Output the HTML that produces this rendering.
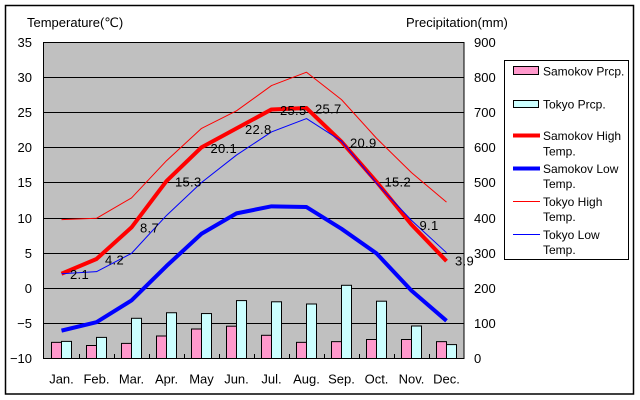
<!DOCTYPE html>
<html><head><meta charset="utf-8"><style>
html,body{margin:0;padding:0;background:#fff;}
svg{display:block;}
text{font-family:"Liberation Sans","DejaVu Sans",sans-serif;fill:#000;}
</style></head><body>
<svg width="640" height="400" viewBox="0 0 640 400" xmlns="http://www.w3.org/2000/svg">
<rect x="0" y="0" width="640" height="400" fill="#fff"/>
<rect x="5.5" y="5.5" width="628" height="388.5" fill="none" stroke="#000" stroke-width="1.5"/>

<text x="27" y="27" font-size="13">Temperature(℃)</text>
<text x="406" y="27" font-size="13">Precipitation(mm)</text>

<!-- plot area -->
<rect x="43.5" y="42.5" width="420.5" height="316" fill="#C0C0C0" stroke="#000" stroke-width="1"/>
<g stroke="#000" stroke-width="1">
<line x1="43.5" y1="77.5" x2="464" y2="77.5"/>
<line x1="43.5" y1="112.5" x2="464" y2="112.5"/>
<line x1="43.5" y1="147.5" x2="464" y2="147.5"/>
<line x1="43.5" y1="182.5" x2="464" y2="182.5"/>
<line x1="43.5" y1="218.5" x2="464" y2="218.5"/>
<line x1="43.5" y1="253.5" x2="464" y2="253.5"/>
<line x1="43.5" y1="288.5" x2="464" y2="288.5"/>
<line x1="43.5" y1="323.5" x2="464" y2="323.5"/>
<line x1="79.5" y1="354" x2="79.5" y2="358.5"/>
<line x1="114.5" y1="354" x2="114.5" y2="358.5"/>
<line x1="149.5" y1="354" x2="149.5" y2="358.5"/>
<line x1="184.5" y1="354" x2="184.5" y2="358.5"/>
<line x1="219.5" y1="354" x2="219.5" y2="358.5"/>
<line x1="254.5" y1="354" x2="254.5" y2="358.5"/>
<line x1="289.5" y1="354" x2="289.5" y2="358.5"/>
<line x1="324.5" y1="354" x2="324.5" y2="358.5"/>
<line x1="359.5" y1="354" x2="359.5" y2="358.5"/>
<line x1="394.5" y1="354" x2="394.5" y2="358.5"/>
<line x1="429.5" y1="354" x2="429.5" y2="358.5"/>
</g>

<!-- bars -->
<g stroke="#000" stroke-width="1">
<g fill="#FF99CC">
<rect x="51.5" y="342.35" width="10" height="16.15"/>
<rect x="86.5" y="345.5" width="10" height="13"/>
<rect x="121.5" y="343.4" width="10" height="15.1"/>
<rect x="156.5" y="336" width="10" height="22.5"/>
<rect x="191.5" y="329" width="10" height="29.5"/>
<rect x="226.5" y="326.2" width="10" height="32.3"/>
<rect x="261.5" y="335.3" width="10" height="23.2"/>
<rect x="296.5" y="342.35" width="10" height="16.15"/>
<rect x="331.5" y="341.65" width="10" height="16.85"/>
<rect x="366.5" y="339.5" width="10" height="19"/>
<rect x="401.5" y="339.5" width="10" height="19"/>
<rect x="436.5" y="341.65" width="10" height="16.85"/>
</g>
<g fill="#CCFFFF">
<rect x="61.5" y="341.4" width="10" height="17.1"/>
<rect x="96.5" y="337.4" width="10" height="21.1"/>
<rect x="131.5" y="318.3" width="10" height="40.2"/>
<rect x="166.5" y="312.75" width="10" height="45.75"/>
<rect x="201.5" y="313.56" width="10" height="44.94"/>
<rect x="236.5" y="300.6" width="10" height="57.9"/>
<rect x="271.5" y="301.8" width="10" height="56.7"/>
<rect x="306.5" y="304" width="10" height="54.5"/>
<rect x="341.5" y="285.3" width="10" height="73.2"/>
<rect x="376.5" y="301.2" width="10" height="57.3"/>
<rect x="411.5" y="326" width="10" height="32.5"/>
<rect x="446.5" y="344.6" width="10" height="13.9"/>
</g>
</g>

<!-- lines -->
<g fill="none" stroke-linejoin="round" stroke-linecap="butt">
<polyline stroke="#FF0000" stroke-width="4" points="61.5,273.75 96.5,259 131.5,227.4 166.5,181.06 201.5,147.36 236.5,128.4 271.5,109.44 306.5,108.03 341.5,141.74 376.5,181.77 411.5,224.6 446.5,261.1"/>
<polyline stroke="#0000FF" stroke-width="4" points="61.5,330.63 96.5,322.21 131.5,300.44 166.5,266.03 201.5,233.73 236.5,213.36 271.5,206.34 306.5,207.04 341.5,228.81 376.5,253.39 411.5,290.61 446.5,320.8"/>
<polyline stroke="#FF0000" stroke-width="1" points="61.5,219.68 96.5,218.28 131.5,197.92 166.5,160.7 201.5,128.4 236.5,110.84 271.5,85.56 306.5,72.22 341.5,99.61 376.5,138.23 411.5,172.64 446.5,202.13"/>
<polyline stroke="#0000FF" stroke-width="1" points="61.5,273.75 96.5,271.65 131.5,253.39 166.5,215.47 201.5,182.47 236.5,155.08 271.5,131.91 306.5,118.57 341.5,141.04 376.5,183.17 411.5,220.39 446.5,252.69"/>
</g>

<!-- data labels -->
<g font-size="13" letter-spacing="0.3">
<text x="70" y="279">2.1</text>
<text x="105" y="264.5">4.2</text>
<text x="140" y="232.5">8.7</text>
<text x="175" y="186.5">15.3</text>
<text x="210.5" y="153">20.1</text>
<text x="245" y="134">22.8</text>
<text x="280" y="115">25.5</text>
<text x="315" y="113.5">25.7</text>
<text x="350" y="147.5">20.9</text>
<text x="384.5" y="186.5">15.2</text>
<text x="419.5" y="230">9.1</text>
<text x="455" y="265.5">3.9</text>
</g>

<!-- left axis labels -->
<g font-size="13" text-anchor="end">
<text x="32" y="47">35</text>
<text x="32" y="82">30</text>
<text x="32" y="117">25</text>
<text x="32" y="152">20</text>
<text x="32" y="187">15</text>
<text x="32" y="223">10</text>
<text x="32" y="258">5</text>
<text x="32" y="293">0</text>
<text x="32" y="328">−5</text>
<text x="32" y="363">−10</text>
</g>
<!-- right axis labels -->
<g font-size="13">
<text x="474" y="47">900</text>
<text x="474" y="82">800</text>
<text x="474" y="117">700</text>
<text x="474" y="152">600</text>
<text x="474" y="187">500</text>
<text x="474" y="223">400</text>
<text x="474" y="258">300</text>
<text x="474" y="293">200</text>
<text x="474" y="328">100</text>
<text x="474" y="363">0</text>
</g>
<!-- month labels -->
<g font-size="13" text-anchor="middle">
<text x="61.5" y="383.5">Jan.</text>
<text x="96.5" y="383.5">Feb.</text>
<text x="131.5" y="383.5">Mar.</text>
<text x="166.5" y="383.5">Apr.</text>
<text x="201.5" y="383.5">May</text>
<text x="236.5" y="383.5">Jun.</text>
<text x="271.5" y="383.5">Jul.</text>
<text x="306.5" y="383.5">Aug.</text>
<text x="341.5" y="383.5">Sep.</text>
<text x="376.5" y="383.5">Oct.</text>
<text x="411.5" y="383.5">Nov.</text>
<text x="446.5" y="383.5">Dec.</text>
</g>

<!-- legend -->
<rect x="504.5" y="60.5" width="124" height="199" fill="#fff" stroke="#000" stroke-width="1"/>
<rect x="513.5" y="66.5" width="25" height="8" fill="#FF99CC" stroke="#000" stroke-width="1"/>
<rect x="513.5" y="100.5" width="25" height="7" fill="#CCFFFF" stroke="#000" stroke-width="1"/>
<line x1="513" y1="135.5" x2="540" y2="135.5" stroke="#FF0000" stroke-width="4"/>
<line x1="513" y1="168.5" x2="540" y2="168.5" stroke="#0000FF" stroke-width="4"/>
<line x1="513" y1="201.5" x2="540" y2="201.5" stroke="#FF0000" stroke-width="1"/>
<line x1="513" y1="234.5" x2="540" y2="234.5" stroke="#0000FF" stroke-width="1"/>
<g font-size="12">
<text x="543" y="75.5">Samokov Prcp.</text>
<text x="543" y="108.5">Tokyo Prcp.</text>
<text x="543" y="140">Samokov High</text>
<text x="543" y="155.5">Temp.</text>
<text x="543" y="173">Samokov Low</text>
<text x="543" y="188">Temp.</text>
<text x="543" y="206">Tokyo High</text>
<text x="543" y="221">Temp.</text>
<text x="543" y="239">Tokyo Low</text>
<text x="543" y="254">Temp.</text>
</g>
</svg>
</body></html>
